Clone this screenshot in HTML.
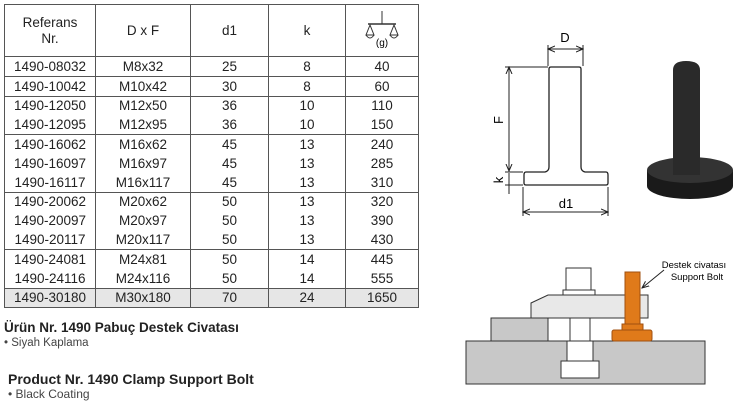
<!DOCTYPE html>
<html><head><meta charset="utf-8"><style>
body{margin:0;width:740px;height:405px;background:#fff;position:relative;font-family:"Liberation Sans",sans-serif;color:#222;overflow:hidden}
table{position:absolute;left:4px;top:4px;border-collapse:collapse;font-size:13.5px}
td{border-left:1.5px solid #555;border-right:1.5px solid #555;text-align:center;height:18.8px;padding:0;line-height:17px}
tr.b td{border-bottom:1.5px solid #555}
tr.h td{height:51px;line-height:16px;border-top:1.5px solid #555}
.t{position:absolute;left:4px}
</style></head><body>
<table>
<colgroup><col style="width:91px"><col style="width:95px"><col style="width:78px"><col style="width:77px"><col style="width:73px"></colgroup>
<tr class="h b"><td>Referans<br>Nr.</td><td>D x F</td><td>d1</td><td>k</td><td><svg width="40" height="40" viewBox="0 0 40 40"><line x1="20" y1="2" x2="20" y2="15" stroke="#333"/><line x1="6" y1="15" x2="34" y2="15" stroke="#333" stroke-width="1.5"/><path d="M8 16 L4 26 H12 Z M32 16 L28 26 H36 Z" fill="none" stroke="#333"/><path d="M4 26 Q8 32 12 26 M28 26 Q32 32 36 26" fill="none" stroke="#333"/><text x="20" y="37" font-size="10" text-anchor="middle" font-family="Liberation Sans">(g)</text></svg></td></tr>
<tr class="b"><td>1490-08032</td><td>M8x32</td><td>25</td><td>8</td><td>40</td></tr>
<tr class="b"><td>1490-10042</td><td>M10x42</td><td>30</td><td>8</td><td>60</td></tr>
<tr><td>1490-12050</td><td>M12x50</td><td>36</td><td>10</td><td>110</td></tr>
<tr class="b"><td>1490-12095</td><td>M12x95</td><td>36</td><td>10</td><td>150</td></tr>
<tr><td>1490-16062</td><td>M16x62</td><td>45</td><td>13</td><td>240</td></tr>
<tr><td>1490-16097</td><td>M16x97</td><td>45</td><td>13</td><td>285</td></tr>
<tr class="b"><td>1490-16117</td><td>M16x117</td><td>45</td><td>13</td><td>310</td></tr>
<tr><td>1490-20062</td><td>M20x62</td><td>50</td><td>13</td><td>320</td></tr>
<tr><td>1490-20097</td><td>M20x97</td><td>50</td><td>13</td><td>390</td></tr>
<tr class="b"><td>1490-20117</td><td>M20x117</td><td>50</td><td>13</td><td>430</td></tr>
<tr><td>1490-24081</td><td>M24x81</td><td>50</td><td>14</td><td>445</td></tr>
<tr class="b"><td>1490-24116</td><td>M24x116</td><td>50</td><td>14</td><td>555</td></tr>
<tr class="b" style="background:#e6e6e6"><td>1490-30180</td><td>M30x180</td><td>70</td><td>24</td><td>1650</td></tr>
</table>
<div class="t" style="top:320px;font-weight:bold;font-size:13.5px">Ürün Nr. 1490 Pabuç Destek Civatası</div>
<div class="t" style="top:337px;font-size:11.5px;color:#444">• Siyah Kaplama</div>
<div class="t" style="top:371px;left:8px;font-weight:bold;font-size:14px">Product Nr. 1490 Clamp Support Bolt</div>
<div class="t" style="top:387px;left:8px;font-size:12px;color:#444">• Black Coating</div>
<svg style="position:absolute;left:0;top:0" width="740" height="405" viewBox="0 0 740 405" font-family="Liberation Sans">
<defs><marker id="a" markerWidth="8" markerHeight="8" refX="7" refY="4" orient="auto-start-reverse"><path d="M0 1 L7 4 L0 7" fill="none" stroke="#222"/></marker></defs>
<g stroke="#222" stroke-width="1" fill="none">
<line x1="548" y1="49" x2="583" y2="49" marker-start="url(#a)" marker-end="url(#a)"/>
<line x1="548" y1="45" x2="548" y2="66"/><line x1="583" y1="45" x2="583" y2="66"/>
<path d="M549 69 Q549 67 551 67 H579 Q581 67 581 69 V167 Q581 171 585 172 H606 Q608 172 608 175 V183 Q608 185 606 185 H526 Q524 185 524 183 V175 Q524 172 526 172 H545 Q549 171 549 167 Z" stroke-width="1.3"/>
<line x1="505" y1="67" x2="548" y2="67"/><line x1="509" y1="67" x2="509" y2="171" marker-start="url(#a)" marker-end="url(#a)"/>
<line x1="505" y1="172" x2="523" y2="172"/><line x1="505" y1="185" x2="523" y2="185"/>
<line x1="509" y1="173" x2="509" y2="194"/>
<line x1="523" y1="187" x2="523" y2="216"/><line x1="608" y1="187" x2="608" y2="216"/>
<line x1="523" y1="212" x2="608" y2="212" marker-start="url(#a)" marker-end="url(#a)"/>
</g>
<text x="565" y="42" font-size="13" text-anchor="middle">D</text>
<text x="566" y="208" font-size="13" text-anchor="middle">d1</text>
<text transform="translate(503,120) rotate(-90)" font-size="13" text-anchor="middle">F</text>
<text transform="translate(503,180) rotate(-90)" font-size="13" text-anchor="middle">k</text>
<ellipse cx="690" cy="186" rx="43" ry="13" fill="#1a1a1a"/>
<rect x="647" y="170" width="86" height="16" fill="#1a1a1a"/>
<ellipse cx="690" cy="170" rx="43" ry="13" fill="#333"/>
<path d="M673 70 Q673 61 686 61 Q700 61 700 70 V175 H673 Z" fill="#2a2a2a"/>
<g fill="#c8c8c8" stroke="#333" stroke-width="1">
<rect x="466" y="341" width="239" height="43"/>
<rect x="491" y="318" width="57" height="23"/>
<path d="M531 318 V303 L548 295 H648 V318 Z" fill="#e8e8e8"/>
</g>
<rect x="567" y="340" width="26" height="4" fill="#fff"/>
<g fill="#fff" stroke="#333"><rect x="567" y="341" width="26" height="20"/><rect x="561" y="361" width="38" height="17"/><rect x="570" y="318" width="20" height="23"/><rect x="566" y="268" width="25" height="22"/><rect x="563" y="290" width="32" height="5"/></g>
<g fill="#e07a1a" stroke="#a05010"><rect x="625" y="272" width="15" height="52"/><rect x="612" y="330" width="40" height="11" rx="2"/><rect x="622" y="324" width="21" height="6"/></g>
<text x="694" y="268" font-size="9.5" text-anchor="middle">Destek civatası</text>
<text x="697" y="280" font-size="9.5" text-anchor="middle">Support Bolt</text>
<line x1="664" y1="270" x2="642" y2="288" stroke="#222" marker-end="url(#a)"/>
</svg>
</body></html>
